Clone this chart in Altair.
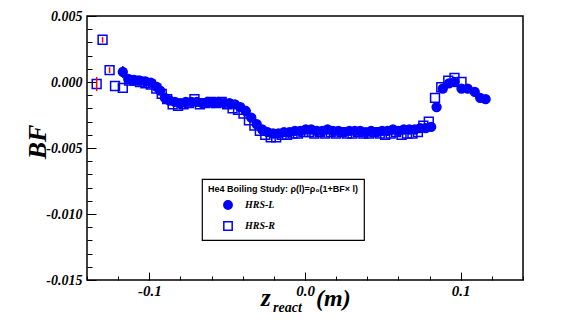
import altair as alt
import pandas as pd

# ---------------- data ----------------
L_z = [-0.117, -0.1135, -0.110, -0.106, -0.1025, -0.099, -0.0955, -0.093, -0.090, -0.087,
       -0.0835, -0.080, -0.0765, -0.073, -0.0695, -0.066, -0.0625, -0.059, -0.0555, -0.052,
       -0.0485, -0.045, -0.0415, -0.038, -0.0345, -0.031, -0.0275, -0.024, -0.0205, -0.017,
       -0.0135, -0.010, -0.0065, -0.003, 0.0005, 0.004, 0.0075, 0.011, 0.0145, 0.018,
       0.0215, 0.025, 0.0285, 0.032, 0.0355, 0.039, 0.0425, 0.046, 0.0495, 0.053,
       0.0565, 0.060, 0.0635, 0.067, 0.0705, 0.074, 0.0775, 0.081, 0.0845, 0.0885,
       0.0925, 0.096, 0.1005, 0.1045, 0.109, 0.1125, 0.116]
L_bf = [0.00076, 0.00023, 0.00015, 0.00010, 0.00004, -0.00005, -0.00035, -0.00065, -0.0012, -0.0014,
        -0.0015, -0.0016, -0.0015, -0.0015, -0.0015, -0.0016, -0.0015, -0.0016, -0.0015, -0.0016,
        -0.0016, -0.0017, -0.0019, -0.0022, -0.0027, -0.0032, -0.0036, -0.0038, -0.0039, -0.0039,
        -0.0038, -0.0038, -0.0037, -0.0037, -0.0036, -0.0036, -0.0037, -0.0037, -0.0036, -0.0037,
        -0.0037, -0.0038, -0.0037, -0.0037, -0.0037, -0.0038, -0.0037, -0.0038, -0.0037, -0.0037,
        -0.0036, -0.0037, -0.0036, -0.0036, -0.0036, -0.0035, -0.0035, -0.0034, -0.0019, -0.0005,
        -0.0001, 0.0000, -0.0005, -0.0005, -0.00075, -0.0012, -0.0013]

R_z = [-0.1338, -0.130, -0.1255, -0.122, -0.117, -0.113, -0.1095, -0.106, -0.1025, -0.099,
       -0.0955, -0.092, -0.0885, -0.085, -0.0815, -0.078, -0.0745, -0.071, -0.0675, -0.064,
       -0.0605, -0.057, -0.0535, -0.050, -0.0465, -0.043, -0.0395, -0.036, -0.0325, -0.029,
       -0.0255, -0.022, -0.0185, -0.015, -0.0115, -0.008, -0.0045, -0.001, 0.0025, 0.006,
       0.0095, 0.013, 0.0165, 0.020, 0.0235, 0.027, 0.0305, 0.034, 0.0375, 0.041,
       0.0445, 0.048, 0.0515, 0.055, 0.0585, 0.062, 0.0655, 0.069, 0.0725, 0.076,
       0.0795, 0.0835, 0.0875, 0.092, 0.096, 0.1005]
R_bf = [-0.00015, 0.0032, 0.0009, -0.0003, -0.00045, 0.0001, 0.0001, 0.0000, -0.0001, -0.0002,
        -0.0005, -0.0009, -0.0013, -0.0017, -0.0018, -0.0017, -0.0016, -0.0013, -0.0017, -0.0016,
        -0.0015, -0.0016, -0.0015, -0.0017, -0.0020, -0.0021, -0.0024, -0.0029, -0.0033, -0.0037,
        -0.0040, -0.0042, -0.0042, -0.0040, -0.0040, -0.0039, -0.0039, -0.0038, -0.0038, -0.0039,
        -0.0038, -0.0039, -0.0038, -0.0039, -0.0038, -0.0039, -0.0039, -0.0038, -0.0039, -0.0039,
        -0.0038, -0.0039, -0.0040, -0.0039, -0.0038, -0.0040, -0.0039, -0.0039, -0.0038, -0.0033,
        -0.0030, -0.0012, -0.0004, 0.0001, 0.0003, 0.0000]

R_err_z = [-0.1338, -0.1300, -0.1255]
R_err_bf = [-0.00015, 0.0032, 0.0009]
R_err = [0.00053, 0.00022, 0.00022]
L_err_z = [-0.117]
L_err_bf = [0.00076]
L_err = [0.00045]

series_names = ["HRS-L", "HRS-R"]
legend_title = "He4 Boiling Study: \u03c1(l)=\u03c1\u2080(1+BF\u00d7 l)"

x_major = [-0.1, 0.0, 0.1]
x_minor = [-0.14, -0.12, -0.10, -0.08, -0.06, -0.04, -0.02, 0.0, 0.02, 0.04, 0.06, 0.08, 0.10, 0.12, 0.14]
y_major = [-0.015, -0.010, -0.005, 0.0, 0.005]
y_minor = [-0.015, -0.014, -0.013, -0.012, -0.011, -0.010, -0.009, -0.008, -0.007, -0.006, -0.005,
           -0.004, -0.003, -0.002, -0.001, 0.0, 0.001, 0.002, 0.003, 0.004, 0.005]

# ---------------- layout ----------------
W, H = 436, 264
SERIF = "Liberation Serif"
SANS = "Liberation Sans"
BLUE = "#0000ff"

df = pd.concat([
    pd.DataFrame({"z": R_z, "bf": R_bf, "series": "HRS-R"}),
    pd.DataFrame({"z": L_z, "bf": L_bf, "series": "HRS-L"}),
], ignore_index=True)
dfRe = pd.DataFrame({"z": R_err_z, "bf": R_err_bf, "err": R_err})
dfLe = pd.DataFrame({"z": L_err_z, "bf": L_err_bf, "err": L_err})

xscale = alt.Scale(domain=[-0.14, 0.14], nice=False, zero=False)
yscale = alt.Scale(domain=[-0.015, 0.005], nice=False, zero=False)

lab = dict(labelFont=SERIF, labelFontWeight="bold", labelFontStyle="italic", labelColor="black",
           ticks=False, domain=False, grid=False, title=None)

pts = alt.Chart(df).mark_point(filled=True, size=78, strokeWidth=1.5, opacity=1).encode(
    x=alt.X("z:Q", scale=xscale, axis=alt.Axis(
        values=x_major, labelFontSize=15, labelPadding=3,
        labelExpr="datum.value < 0 ? '-' + format(-datum.value, '.1f') : format(datum.value, '.1f')", **lab)),
    y=alt.Y("bf:Q", scale=yscale, axis=alt.Axis(
        values=y_major, labelFontSize=14, labelPadding=5,
        labelExpr="datum.value < 0 ? '-' + format(-datum.value, '.3f') : format(datum.value, '.3f')", **lab)),
    shape=alt.Shape("series:N", scale=alt.Scale(domain=series_names, range=["circle", "square"]),
                    legend=alt.Legend(title=legend_title)),
    fill=alt.Fill("series:N", scale=alt.Scale(domain=series_names, range=[BLUE, "transparent"]),
                  legend=alt.Legend(title=legend_title)),
    stroke=alt.Stroke("series:N", scale=alt.Scale(domain=series_names, range=[BLUE, BLUE]),
                      legend=alt.Legend(title=legend_title)),
)

tick = dict(labels=False, domain=False, grid=False, title=None, tickColor="black", tickWidth=1)

errR = alt.Chart(dfRe).transform_calculate(
    lo="datum.bf - datum.err", hi="datum.bf + datum.err"
).mark_rule(color="#ff0000", strokeWidth=1.5).encode(
    x=alt.X("z:Q", scale=xscale, axis=alt.Axis(orient="top", offset=-H, values=x_minor, tickSize=4, **tick)),
    y=alt.Y("lo:Q", scale=yscale, axis=alt.Axis(orient="right", offset=-W, values=y_minor, tickSize=5, **tick)),
    y2="hi:Q",
)

errL = alt.Chart(dfLe).transform_calculate(
    lo="datum.bf - datum.err", hi="datum.bf + datum.err"
).mark_rule(color=BLUE, strokeWidth=1.5).encode(
    x=alt.X("z:Q", scale=xscale, axis=alt.Axis(orient="top", offset=-H, values=x_major, tickSize=8, **tick)),
    y=alt.Y("lo:Q", scale=yscale, axis=alt.Axis(orient="right", offset=-W, values=y_major, tickSize=9, **tick)),
    y2="hi:Q",
)

one = pd.DataFrame({"a": [0]})
ttl = dict(font=SERIF, fontWeight="bold", fontStyle="italic", color="black")
t_bf = alt.Chart(one).mark_text(text="BF", fontSize=26, angle=270, align="center", baseline="middle", **ttl).encode(
    x=alt.value(-49), y=alt.value(126))
t_z = alt.Chart(one).mark_text(text="z", fontSize=25, align="left", baseline="alphabetic", **ttl).encode(
    x=alt.value(174), y=alt.value(290))
t_sub = alt.Chart(one).mark_text(text="react", fontSize=14, align="left", baseline="alphabetic", **ttl).encode(
    x=alt.value(186), y=alt.value(296))
t_m = alt.Chart(one).mark_text(text="(m)", fontSize=24, align="left", baseline="alphabetic", **ttl).encode(
    x=alt.value(229), y=alt.value(290))

chart = alt.layer(pts, errR, errL, t_bf, t_z, t_sub, t_m).resolve_axis(
    x="independent", y="independent"
).properties(
    width=W, height=H,
    padding={"left": 79, "top": 8, "right": 50, "bottom": 40},
    autosize=alt.AutoSizeParams(type="none"),
    background="white",
).configure_view(
    stroke="black", strokeWidth=1.5
).configure_legend(
    orient="none", legendX=115, legendY=163,
    strokeColor="black", strokeWidth=1.2, fillColor="white", padding=6, cornerRadius=0,
    titleFont=SANS, titleFontSize=9, titleFontWeight="bold", titleColor="black", titleLimit=400,
    titlePadding=6,
    labelFont=SERIF, labelFontSize=10, labelFontWeight="bold", labelFontStyle="italic", labelColor="black",
    symbolOffset=15, labelOffset=12, rowPadding=5, symbolSize=70, symbolStrokeWidth=1.5,
)

chart.save("out.html", embed_options={"renderer": "svg", "actions": False})
